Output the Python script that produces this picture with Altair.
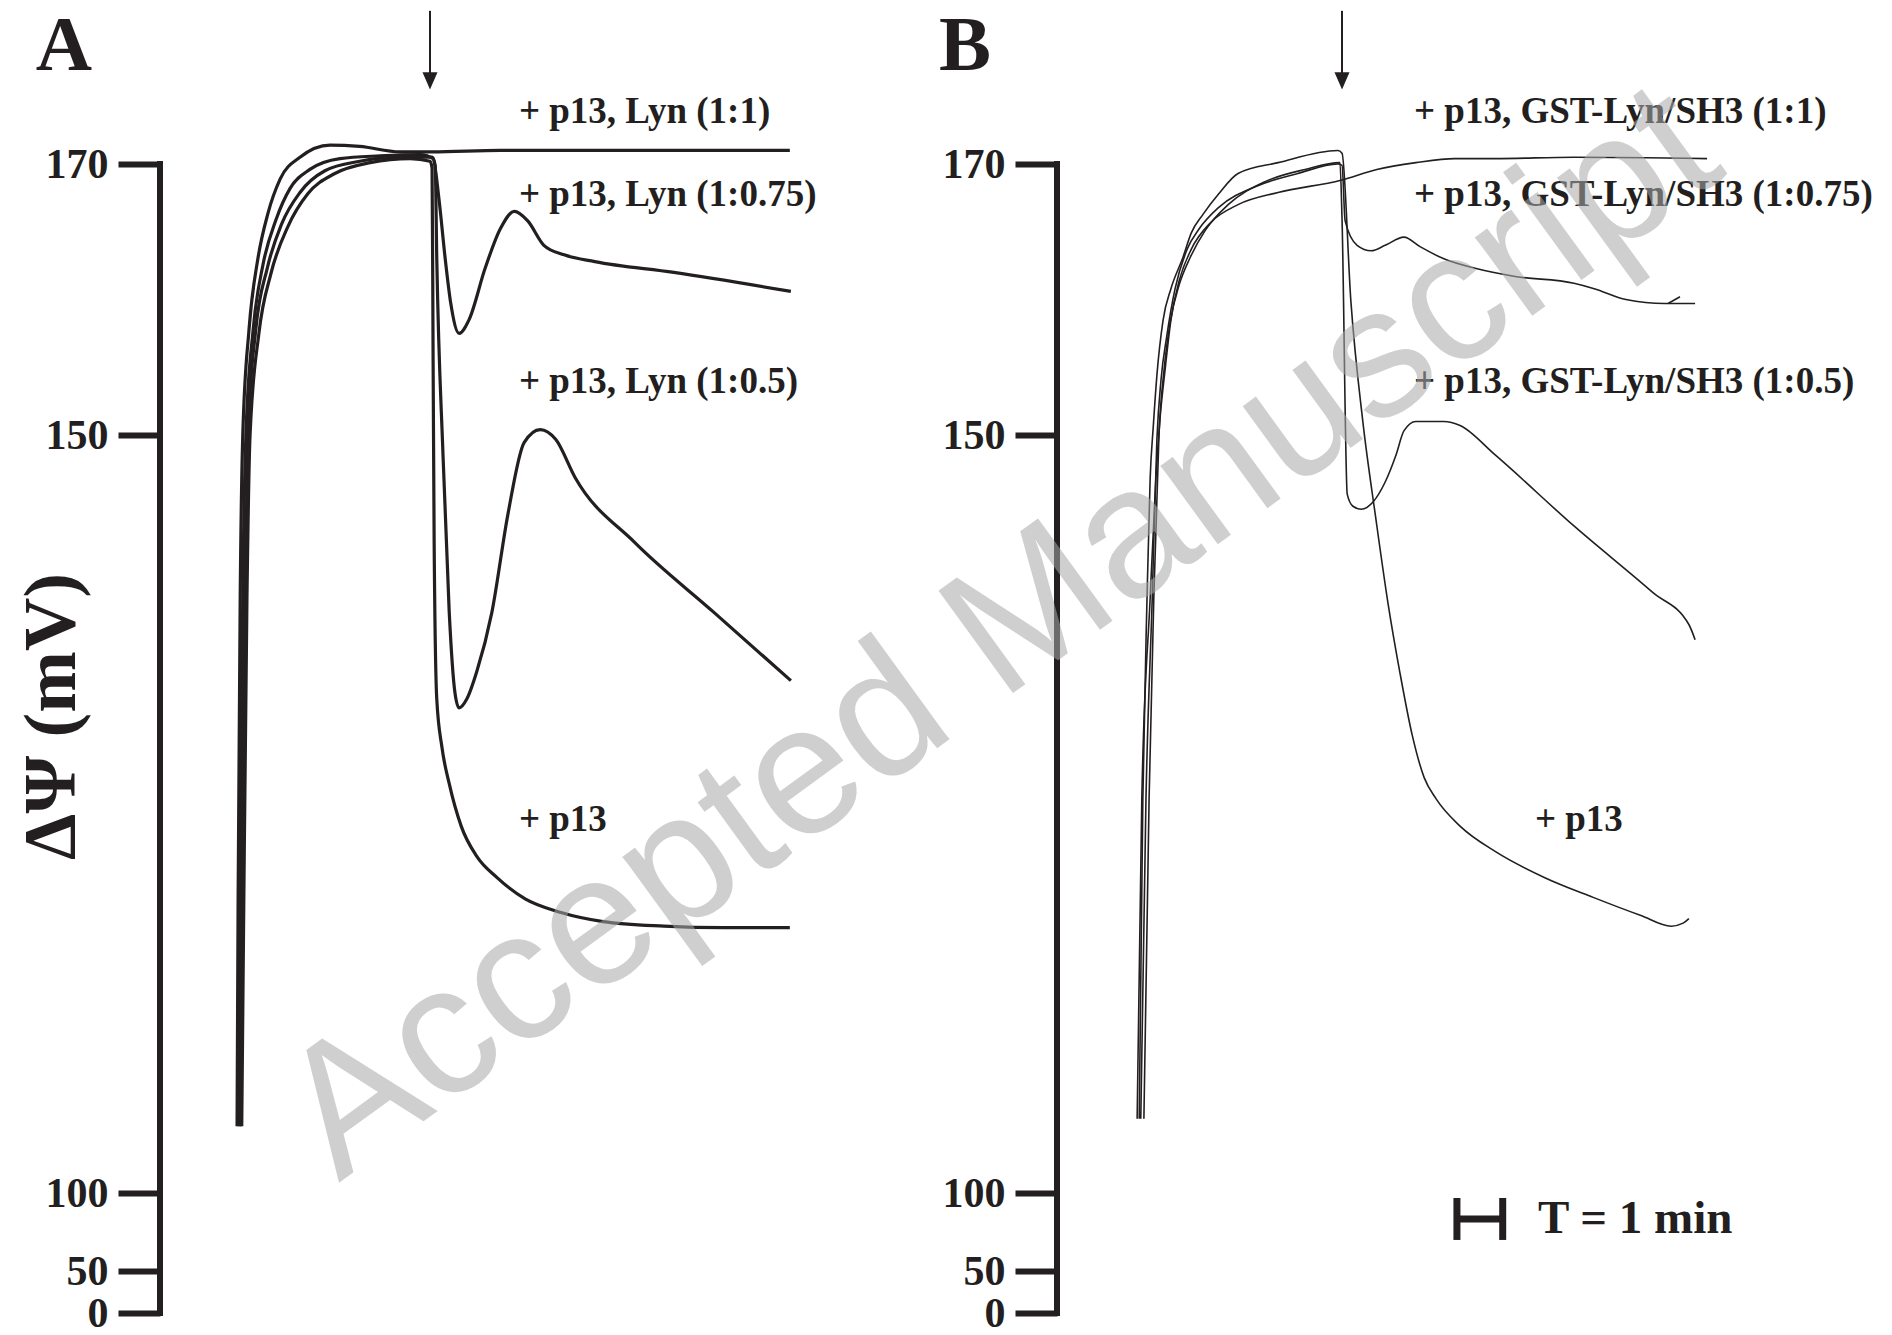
import altair as alt
import pandas as pd

INK = "#231f20"
SERIF = "Liberation Serif"

# ---------------- data (time in min relative to the arrow, membrane potential in mV) ----------------
Y_TICKS = [0, 50, 100, 150, 170]

# Panel A
A_11_t = [-3.71, -3.69, -3.65, -3.60, -3.48, -3.31, -3.12, -2.88, -2.50, -1.92, -1.35, -0.58, 0.04, 1.35, 6.92]
A_11_v = [104.4, 119.4, 139.2, 150.0, 157.8, 163.0, 166.3, 168.9, 170.5, 171.4, 171.3, 170.9, 170.9, 171.0, 171.0]

A_075_t = [-3.67, -3.65, -3.60, -3.54, -3.40, -3.21, -2.96, -2.69, -2.31, -1.73, -0.96, -0.19, 0.06, 0.17, 0.29,
           0.40, 0.56, 0.75, 1.06, 1.35, 1.62, 1.88, 2.19, 2.58, 3.17, 4.69, 6.94]
A_075_v = [104.4, 119.4, 139.2, 150.0, 157.8, 162.6, 165.9, 168.2, 169.6, 170.4, 170.6, 170.7, 170.4, 167.5, 163.1,
           159.7, 157.5, 158.5, 162.3, 165.2, 166.5, 165.8, 164.0, 163.3, 162.8, 162.0, 160.6]

A_05_t = [-3.65, -3.62, -3.56, -3.50, -3.35, -3.13, -2.85, -2.50, -2.02, -1.35, -0.58, 0.04, 0.10, 0.13, 0.25,
          0.37, 0.48, 0.56, 0.71, 0.90, 1.19, 1.50, 1.81, 2.12, 2.42, 2.79, 3.94, 5.46, 6.94]
A_05_v = [104.4, 119.4, 139.2, 150.0, 157.8, 162.3, 165.6, 167.9, 169.5, 170.2, 170.5, 170.5, 169.9, 163.1, 148.7,
          138.3, 133.0, 132.0, 132.6, 134.4, 138.3, 144.8, 149.5, 150.4, 149.7, 147.2, 142.9, 138.3, 133.8]

A_p13_t = [-3.62, -3.58, -3.52, -3.46, -3.29, -3.06, -2.73, -2.35, -1.83, -1.15, -0.38, 0.00, 0.04, 0.06, 0.08,
           0.13, 0.23, 0.37, 0.60, 0.90, 1.29, 1.83, 2.52, 3.33, 4.50, 5.65, 6.92]
A_p13_v = [104.4, 119.4, 139.2, 150.0, 157.5, 161.9, 165.4, 167.8, 169.3, 170.1, 170.4, 170.2, 169.7, 155.5, 142.9,
           132.6, 129.4, 127.0, 124.2, 122.2, 120.8, 119.4, 118.5, 117.9, 117.6, 117.5, 117.5]

# Panel B
B_11_t = [-3.94, -3.85, -3.69, -3.58, -3.50, -3.40, -3.29, -3.13, -2.90, -2.52, -2.00, -1.23, -0.02, 0.67, 1.42,
          2.17, 2.94, 4.46, 7.02]
B_11_v = [104.9, 126.0, 139.2, 147.1, 151.2, 154.9, 158.5, 161.4, 163.7, 165.7, 167.0, 167.9, 168.8, 169.6, 170.1,
          170.4, 170.4, 170.5, 170.4]

B_075_t = [-3.87, -3.77, -3.65, -3.56, -3.48, -3.37, -3.21, -2.98, -2.75, -2.37, -1.62, -0.85, -0.08, 0.00, 0.06,
           0.29, 0.56, 0.83, 1.19, 1.50, 1.96, 2.56, 3.33, 4.46, 4.85, 5.46, 6.21, 6.79]
B_075_v = [104.9, 126.0, 139.2, 149.7, 154.1, 157.3, 160.8, 163.7, 165.2, 166.8, 168.4, 169.3, 170.0, 169.9, 165.8,
           164.0, 163.6, 164.0, 164.6, 163.9, 163.0, 162.3, 161.7, 161.2, 160.8, 160.0, 159.7, 159.7]

B_05_t = [-3.81, -3.71, -3.62, -3.52, -3.42, -3.31, -3.13, -2.92, -2.63, -2.19, -1.48, -0.71, -0.04, 0.00, 0.10,
          0.21, 0.37, 0.60, 0.83, 1.04, 1.19, 1.42, 1.96, 2.27, 2.94, 4.46, 5.98, 6.67, 6.79]
B_05_v = [104.9, 126.0, 139.2, 150.0, 154.9, 158.2, 161.1, 163.1, 165.1, 167.0, 168.7, 169.6, 170.1, 166.0, 146.1,
          145.3, 145.1, 145.6, 146.9, 148.7, 150.3, 151.0, 151.0, 150.7, 148.7, 144.0, 139.6, 137.5, 136.5]

B_p13_t = [-3.90, -3.83, -3.75, -3.69, -3.63, -3.56, -3.44, -3.29, -3.06, -2.90, -2.67, -2.37, -2.00, -1.23, -0.08,
           0.00, 0.17, 0.40, 0.65, 0.88, 1.12, 1.35, 1.58, 1.81, 2.27, 2.96, 3.90, 4.83, 5.75, 6.33, 6.56, 6.67]
B_p13_v = [104.9, 126.0, 139.2, 147.1, 150.6, 154.4, 158.5, 160.8, 163.1, 164.9, 166.3, 167.8, 169.3, 170.1, 171.0,
           170.8, 159.9, 151.0, 144.5, 139.0, 134.2, 130.2, 127.4, 126.0, 124.2, 122.5, 120.8, 119.5, 118.3, 117.6,
           117.8, 118.1]

# small barb at the end of the B (1:0.75) trace
B_barb_t = [6.27, 6.50]
B_barb_v = [159.7, 160.2]

# annotations
A_labels = ["+ p13, Lyn (1:1)", "+ p13, Lyn (1:0.75)", "+ p13, Lyn (1:0.5)", "+ p13"]
A_label_t = [1.71, 1.71, 1.71, 1.71]
A_label_v = [173.8, 167.7, 153.9, 124.6]
B_labels = ["+ p13, GST-Lyn/SH3 (1:1)", "+ p13, GST-Lyn/SH3 (1:0.75)", "+ p13, GST-Lyn/SH3 (1:0.5)", "+ p13"]
B_label_t = [1.385, 1.385, 1.385, 3.71]
B_label_v = [173.8, 167.7, 153.9, 124.6]

ARROW_T = 0.0
ARROW_TOP_V = 181.3
ARROW_TIP_V = 175.5

PANEL_LETTERS = ["A", "B"]
LETTER_T = [-7.58, -7.75]
LETTER_V = [176.9, 176.9]

BAR_T = [2.21, 3.09]
BAR_V = [69.9, 83.3, 96.8]
BAR_TEXT = "T = 1 min"
BAR_TEXT_T = 3.77

WATERMARK = "Accepted Manuscript"
WM_T = -6.55
WM_V = 136.9

# ---------------- scales / axes ----------------
Y_DOMAIN = [0, 50, 100, 150, 170, 182.1]
Y_RANGE = [1313, 1271, 1193, 435, 164, 0]
H = 1313
W_A, W_B = 760, 820

y_scale = alt.Scale(domain=Y_DOMAIN, range=Y_RANGE, nice=False, zero=False)
xA_scale = alt.Scale(domain=[-5.192, 9.423], nice=False, zero=False)
xB_scale = alt.Scale(domain=[-5.481, 10.288], nice=False, zero=False)


def y_axis(title):
    kw = dict(values=Y_TICKS, domain=False, grid=False, ticks=True, tickSize=42, tickWidth=6,
              tickColor=INK, labelFont=SERIF, labelFontWeight="bold", labelFontSize=42,
              labelColor=INK, labelPadding=10, labelOverlap=False)
    if title:
        kw.update(title=title, titleFont=SERIF, titleFontSize=74, titleFontWeight="bold",
                  titleColor=INK, titleX=-108, titleY=716, titleAngle=270,
                  titleBaseline="middle", titleAlign="center")
    else:
        kw.update(title=None)
    return alt.Axis(**kw)


def trace_df(name, t, v):
    return pd.DataFrame({"trace": name, "t": t, "v": v, "i": list(range(len(t)))})


def panel(traces, labels, lt, lv, letter, lett_t, xscale, width, title, stroke_w, extra=None):
    ax = y_axis(title)
    X = lambda f: alt.X(f, type="quantitative", scale=xscale, axis=None)
    Y = lambda f: alt.Y(f, type="quantitative", scale=y_scale, axis=ax)

    dom = alt.Chart(pd.DataFrame({"t": [xscale.domain[0]], "v": [Y_TICKS[0]], "v2": [Y_TICKS[-1]]})).mark_rule(
        color=INK, strokeWidth=6, strokeCap="square").encode(x=X("t"), y=Y("v"), y2=alt.Y2("v2"))

    lines = alt.Chart(pd.concat(traces, ignore_index=True)).mark_line(
        color=INK, strokeWidth=stroke_w, interpolate="monotone").encode(
        x=X("t"), y=Y("v"), detail="trace:N", order="i:Q")

    txt = alt.Chart(pd.DataFrame({"t": lt, "v": lv, "label": labels})).mark_text(
        align="left", baseline="middle", font=SERIF, fontWeight="bold", fontSize=37, color=INK).encode(
        x=X("t"), y=Y("v"), text="label:N")

    arrow_df = pd.DataFrame({"t": [ARROW_T], "v": [ARROW_TOP_V], "v2": [ARROW_TIP_V + 1.0], "tip": [ARROW_TIP_V]})
    arrow = alt.Chart(arrow_df).mark_rule(color=INK, strokeWidth=2).encode(
        x=X("t"), y=Y("v"), y2=alt.Y2("v2"))
    head = alt.Chart(arrow_df).mark_point(
        shape="M-1,-2.3L1,-2.3L0,0Z", filled=True, fill=INK, size=225, opacity=1).encode(
        x=X("t"), y=Y("tip"))

    let = alt.Chart(pd.DataFrame({"t": [lett_t], "v": [LETTER_V[0]], "label": [letter]})).mark_text(
        align="left", baseline="alphabetic", font=SERIF, fontWeight="bold", fontSize=78, color=INK).encode(
        x=X("t"), y=Y("v"), text="label:N")

    layers = [dom, lines, txt, arrow, head, let]
    if extra:
        layers += extra(X, Y)
    return alt.layer(*layers).properties(width=width, height=H)


def b_extra(X, Y):
    barb = alt.Chart(trace_df("barb", B_barb_t, B_barb_v)).mark_line(
        color=INK, strokeWidth=1.6).encode(x=X("t"), y=Y("v"), order="i:Q")
    bar_h = alt.Chart(pd.DataFrame({"t": [BAR_T[0]], "t2": [BAR_T[1]], "v": [BAR_V[1]]})).mark_rule(
        color=INK, strokeWidth=7).encode(x=X("t"), x2=alt.X2("t2"), y=Y("v"))
    bar_v = alt.Chart(pd.DataFrame({"t": BAR_T, "v": [BAR_V[0]] * 2, "v2": [BAR_V[2]] * 2})).mark_rule(
        color=INK, strokeWidth=7).encode(x=X("t"), y=Y("v"), y2=alt.Y2("v2"))
    bar_txt = alt.Chart(pd.DataFrame({"t": [BAR_TEXT_T], "v": [BAR_V[1]], "label": [BAR_TEXT]})).mark_text(
        align="left", baseline="middle", font=SERIF, fontWeight="bold", fontSize=47, color=INK).encode(
        x=X("t"), y=Y("v"), text="label:N")
    wm = alt.Chart(pd.DataFrame({"t": [WM_T], "v": [WM_V], "label": [WATERMARK]})).mark_text(
        align="center", baseline="middle", font="Liberation Sans", fontSize=184, angle=324.0,
        color="#a9a9a9", opacity=0.55).encode(x=X("t"), y=Y("v"), text="label:N")
    return [barb, bar_h, bar_v, bar_txt, wm]


panelA = panel(
    [trace_df("1:1", A_11_t, A_11_v), trace_df("1:0.75", A_075_t, A_075_v),
     trace_df("1:0.5", A_05_t, A_05_v), trace_df("p13", A_p13_t, A_p13_v)],
    A_labels, A_label_t, A_label_v, PANEL_LETTERS[0], LETTER_T[0], xA_scale, W_A, "ΔΨ (mV)", 3.2)

panelB = panel(
    [trace_df("1:1", B_11_t, B_11_v), trace_df("1:0.75", B_075_t, B_075_v),
     trace_df("1:0.5", B_05_t, B_05_v), trace_df("p13", B_p13_t, B_p13_v)],
    B_labels, B_label_t, B_label_v, PANEL_LETTERS[1], LETTER_T[1], xB_scale, W_B, None, 1.6, extra=b_extra)

chart = alt.hconcat(panelA, panelB, spacing=137, bounds="flush").properties(
    padding={"left": 15, "top": 0, "right": 0, "bottom": 0}, background="white"
).configure_view(stroke="transparent", strokeWidth=0)

chart.save("out.html", embed_options={"renderer": "svg", "actions": False})
